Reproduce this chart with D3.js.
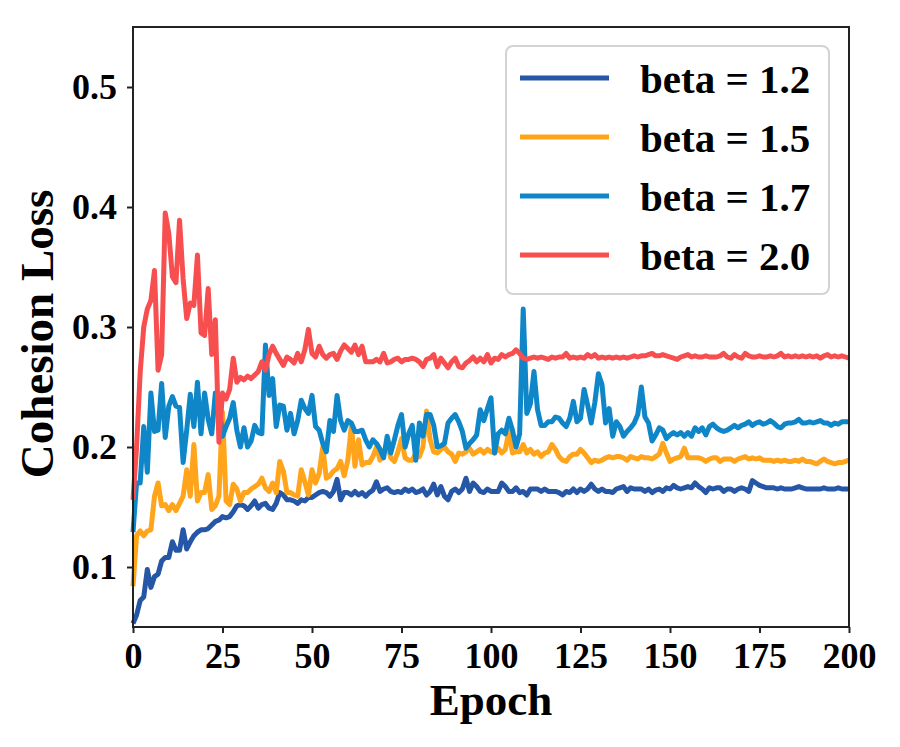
<!DOCTYPE html>
<html>
<head>
<meta charset="utf-8">
<script src="https://cdn.jsdelivr.net/npm/d3@7"></script>
<style>
  body { margin: 0; background: #fff; }
  text { font-family: "Liberation Serif", "Times New Roman", serif; font-weight: bold; fill: #000; }
</style>
</head>
<body>
<svg id="chart" width="900" height="747"></svg>
<script>
// cohesion loss per epoch (0..200)
const beta12 = [
  0.053,0.060,0.072,0.075,0.098,0.083,0.092,0.094,0.105,0.108,
  0.108,0.121,0.114,0.114,0.131,0.115,0.121,0.126,0.129,0.131,
  0.131,0.132,0.135,0.138,0.139,0.142,0.141,0.142,0.146,0.151,
  0.152,0.151,0.148,0.151,0.155,0.149,0.152,0.153,0.149,0.148,
  0.153,0.162,0.160,0.156,0.156,0.155,0.153,0.156,0.155,0.158,
  0.158,0.160,0.162,0.163,0.162,0.159,0.163,0.173,0.156,0.162,
  0.162,0.160,0.163,0.160,0.162,0.159,0.162,0.164,0.171,0.163,
  0.165,0.166,0.163,0.162,0.163,0.162,0.165,0.163,0.165,0.162,
  0.163,0.165,0.160,0.163,0.169,0.160,0.167,0.159,0.156,0.163,
  0.165,0.162,0.165,0.174,0.163,0.170,0.167,0.163,0.162,0.165,
  0.163,0.163,0.163,0.170,0.167,0.163,0.163,0.166,0.162,0.163,
  0.160,0.165,0.165,0.165,0.163,0.165,0.163,0.163,0.163,0.162,
  0.160,0.163,0.162,0.165,0.162,0.165,0.163,0.165,0.169,0.165,
  0.163,0.165,0.163,0.163,0.162,0.165,0.166,0.167,0.163,0.166,
  0.165,0.165,0.165,0.163,0.165,0.162,0.164,0.165,0.163,0.166,
  0.165,0.168,0.166,0.165,0.166,0.167,0.166,0.170,0.167,0.165,
  0.162,0.166,0.165,0.166,0.166,0.163,0.165,0.165,0.163,0.165,
  0.166,0.165,0.163,0.172,0.170,0.168,0.167,0.166,0.166,0.166,
  0.165,0.166,0.165,0.165,0.165,0.166,0.167,0.166,0.165,0.165,
  0.165,0.165,0.165,0.166,0.165,0.165,0.165,0.166,0.165,0.165,
  0.165
];
const beta15 = [
  0.084,0.126,0.130,0.126,0.130,0.131,0.159,0.170,0.151,0.152,
  0.147,0.152,0.147,0.153,0.159,0.181,0.159,0.202,0.155,0.162,
  0.162,0.177,0.148,0.151,0.159,0.229,0.155,0.152,0.169,0.165,
  0.155,0.162,0.162,0.165,0.167,0.169,0.174,0.166,0.163,0.170,
  0.162,0.188,0.180,0.162,0.162,0.160,0.159,0.181,0.171,0.160,
  0.181,0.170,0.178,0.200,0.174,0.176,0.180,0.182,0.188,0.176,
  0.189,0.218,0.184,0.206,0.185,0.187,0.187,0.192,0.200,0.189,
  0.195,0.203,0.191,0.188,0.196,0.207,0.191,0.189,0.189,0.195,
  0.192,0.200,0.230,0.206,0.196,0.195,0.198,0.200,0.196,0.194,
  0.188,0.195,0.194,0.196,0.199,0.194,0.196,0.198,0.195,0.198,
  0.196,0.195,0.199,0.195,0.198,0.213,0.195,0.196,0.196,0.202,
  0.195,0.198,0.194,0.196,0.192,0.195,0.196,0.202,0.198,0.192,
  0.189,0.188,0.192,0.194,0.194,0.198,0.195,0.191,0.187,0.189,
  0.188,0.189,0.191,0.192,0.191,0.192,0.192,0.191,0.189,0.192,
  0.191,0.190,0.192,0.191,0.191,0.190,0.192,0.194,0.203,0.195,
  0.188,0.190,0.191,0.192,0.199,0.191,0.191,0.191,0.191,0.190,
  0.188,0.190,0.191,0.191,0.188,0.190,0.190,0.190,0.188,0.190,
  0.191,0.192,0.190,0.191,0.190,0.191,0.189,0.189,0.189,0.188,
  0.189,0.188,0.189,0.188,0.188,0.189,0.188,0.190,0.188,0.188,
  0.187,0.186,0.188,0.190,0.188,0.187,0.186,0.187,0.187,0.188,
  0.189
];
const beta17 = [
  0.129,0.170,0.170,0.217,0.179,0.245,0.213,0.214,0.253,0.208,
  0.234,0.242,0.234,0.233,0.187,0.214,0.244,0.217,0.254,0.211,
  0.245,0.223,0.211,0.245,0.237,0.209,0.217,0.224,0.237,0.214,
  0.200,0.216,0.200,0.205,0.218,0.212,0.211,0.285,0.243,0.257,
  0.217,0.235,0.234,0.214,0.228,0.211,0.222,0.239,0.232,0.228,
  0.243,0.217,0.214,0.203,0.196,0.222,0.213,0.243,0.222,0.214,
  0.222,0.220,0.213,0.213,0.214,0.206,0.200,0.206,0.203,0.198,
  0.191,0.209,0.195,0.206,0.218,0.227,0.200,0.211,0.218,0.189,
  0.220,0.209,0.227,0.227,0.218,0.200,0.201,0.203,0.220,0.224,
  0.227,0.221,0.213,0.199,0.203,0.206,0.210,0.231,0.222,0.232,
  0.241,0.195,0.211,0.214,0.211,0.224,0.214,0.200,0.211,0.315,
  0.228,0.236,0.263,0.231,0.218,0.218,0.221,0.221,0.225,0.224,
  0.220,0.217,0.224,0.238,0.221,0.224,0.248,0.235,0.220,0.237,
  0.261,0.252,0.220,0.232,0.209,0.221,0.217,0.209,0.213,0.216,
  0.220,0.227,0.250,0.225,0.220,0.205,0.210,0.216,0.214,0.207,
  0.210,0.212,0.210,0.212,0.209,0.212,0.209,0.216,0.213,0.216,
  0.210,0.217,0.219,0.216,0.214,0.213,0.214,0.216,0.218,0.216,
  0.218,0.219,0.221,0.218,0.220,0.221,0.219,0.220,0.222,0.220,
  0.217,0.216,0.219,0.220,0.220,0.221,0.223,0.220,0.220,0.221,
  0.220,0.221,0.222,0.220,0.220,0.218,0.220,0.219,0.221,0.221,
  0.221
];
const beta20 = [
  0.156,0.200,0.262,0.300,0.315,0.322,0.347,0.264,0.277,0.395,
  0.378,0.342,0.337,0.389,0.340,0.307,0.320,0.318,0.360,0.295,
  0.293,0.332,0.277,0.306,0.204,0.245,0.240,0.248,0.274,0.254,
  0.258,0.256,0.259,0.257,0.260,0.263,0.271,0.264,0.277,0.284,
  0.278,0.273,0.268,0.275,0.273,0.270,0.278,0.271,0.281,0.298,
  0.278,0.275,0.284,0.277,0.274,0.277,0.278,0.273,0.280,0.285,
  0.282,0.279,0.285,0.277,0.284,0.271,0.271,0.271,0.273,0.271,
  0.278,0.270,0.271,0.273,0.274,0.271,0.273,0.273,0.274,0.273,
  0.271,0.267,0.273,0.274,0.277,0.267,0.274,0.270,0.266,0.271,
  0.274,0.267,0.266,0.270,0.272,0.275,0.271,0.274,0.271,0.277,
  0.270,0.274,0.273,0.277,0.275,0.277,0.278,0.281,0.278,0.274,
  0.273,0.274,0.275,0.274,0.275,0.274,0.273,0.275,0.274,0.275,
  0.275,0.278,0.274,0.275,0.274,0.275,0.274,0.277,0.275,0.277,
  0.274,0.275,0.274,0.275,0.274,0.275,0.274,0.275,0.274,0.275,
  0.276,0.275,0.276,0.276,0.277,0.278,0.276,0.276,0.277,0.276,
  0.275,0.274,0.273,0.275,0.276,0.277,0.275,0.276,0.275,0.275,
  0.276,0.275,0.275,0.275,0.276,0.278,0.275,0.274,0.277,0.275,
  0.274,0.278,0.276,0.275,0.275,0.276,0.275,0.275,0.276,0.275,
  0.276,0.278,0.275,0.276,0.275,0.276,0.275,0.276,0.275,0.276,
  0.275,0.276,0.274,0.276,0.277,0.275,0.276,0.275,0.276,0.275,
  0.274
];

const seriesNames = ["beta = 1.2", "beta = 1.5", "beta = 1.7", "beta = 2.0"];
const seriesValues = [beta12, beta15, beta17, beta20];
const colors = ["#2656a6", "#ffa41b", "#0e86c8", "#f74f50"];
const xTicks = [0, 25, 50, 75, 100, 125, 150, 175, 200];
const yTicks = [0.1, 0.2, 0.3, 0.4, 0.5];

const width = 900, height = 747;
const margin = { top: 27, right: 51, bottom: 120, left: 133 };

const svg = d3.select("#chart");

const x = d3.scaleLinear()
  .domain([0, 200])
  .range([margin.left, width - margin.right]);

const y = d3.scaleLinear()
  .domain([0.05, 0.55])
  .range([height - margin.bottom, margin.top]);

// lines
const line = d3.line()
  .x((d, i) => x(i))
  .y(d => y(d));

svg.append("g")
  .selectAll("path")
  .data(seriesValues)
  .join("path")
  .attr("d", d => line(d))
  .attr("fill", "none")
  .attr("stroke", (d, i) => colors[i])
  .attr("stroke-width", 5)
  .attr("stroke-linejoin", "round")
  .attr("stroke-linecap", "butt");

// axes
const xAxis = svg.append("g")
  .attr("transform", `translate(0,${height - margin.bottom})`)
  .call(d3.axisBottom(x).tickValues(xTicks).tickFormat(d3.format("d")).tickSize(6).tickPadding(6));

const yAxis = svg.append("g")
  .attr("transform", `translate(${margin.left},0)`)
  .call(d3.axisLeft(y).tickValues(yTicks).tickFormat(d3.format(".1f")).tickSize(6).tickPadding(10));

[xAxis, yAxis].forEach(ax => {
  ax.attr("font-size", null).attr("font-family", null);
  ax.select(".domain").remove();
  ax.selectAll(".tick line").attr("stroke", "#222").attr("stroke-width", 2);
  ax.selectAll(".tick text").style("font-size", "36px");
});
xAxis.selectAll(".tick text").attr("y", 41).attr("dy", null);

// frame
svg.append("rect")
  .attr("x", margin.left)
  .attr("y", margin.top)
  .attr("width", width - margin.left - margin.right)
  .attr("height", height - margin.top - margin.bottom)
  .attr("fill", "none")
  .attr("stroke", "#222")
  .attr("stroke-width", 2);

// axis titles
svg.append("text")
  .attr("x", (margin.left + width - margin.right) / 2)
  .attr("y", 715)
  .attr("text-anchor", "middle")
  .style("font-size", "45px")
  .text("Epoch");

svg.append("text")
  .attr("transform", `translate(53,${(margin.top + height - margin.bottom) / 2 + 7}) rotate(-90)`)
  .attr("text-anchor", "middle")
  .style("font-size", "47px")
  .text("Cohesion Loss");

// legend
const legend = svg.append("g").attr("transform", "translate(506,46)");

legend.append("rect")
  .attr("width", 323)
  .attr("height", 248)
  .attr("rx", 7)
  .attr("fill", "#fff")
  .attr("fill-opacity", 0.85)
  .attr("stroke", "#d3d3d3")
  .attr("stroke-width", 2);

seriesNames.forEach((name, i) => {
  const row = legend.append("g")
    .attr("transform", `translate(0, ${32 + i * 59})`);

  row.append("line")
    .attr("x1", 14)
    .attr("x2", 103)
    .attr("stroke", colors[i])
    .attr("stroke-width", 5);

  row.append("text")
    .attr("x", 134)
    .attr("y", 15)
    .style("font-size", "41px")
    .text(name);
});
</script>
</body>
</html>
